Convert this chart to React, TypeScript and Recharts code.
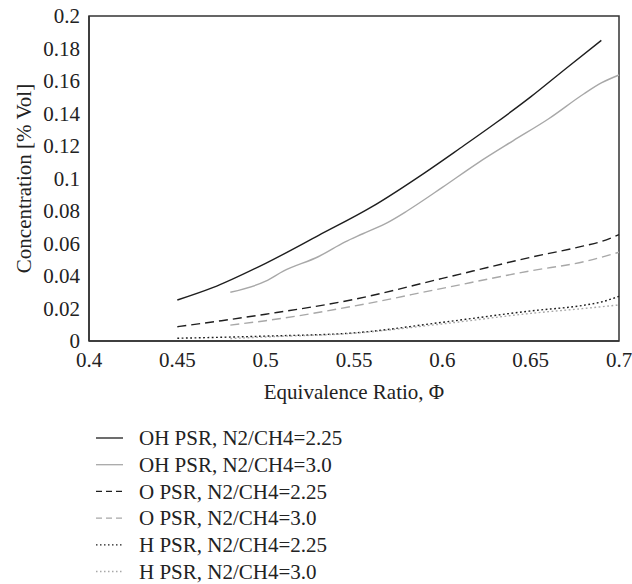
import React from 'react';
import { LineChart, Line, XAxis, YAxis, Legend, ReferenceArea, Label } from 'recharts';

const xTicks = [0.4, 0.45, 0.5, 0.55, 0.6, 0.65, 0.7];
const yTicks = [0, 0.02, 0.04, 0.06, 0.08, 0.1, 0.12, 0.14, 0.16, 0.18, 0.2];

const ohPhi225 = [0.45, 0.47, 0.5, 0.53, 0.56, 0.59, 0.61, 0.63, 0.65, 0.67, 0.69];
const ohVal225 = [0.0252, 0.0328, 0.0478, 0.065, 0.0825, 0.1035, 0.1186, 0.134, 0.1502, 0.1677, 0.185];

const ohPhi30 = [0.48, 0.5, 0.51, 0.53, 0.545, 0.555, 0.57, 0.58, 0.6, 0.62, 0.64, 0.66, 0.68, 0.69, 0.7];
const ohVal30 = [0.03, 0.0368, 0.043, 0.052, 0.061, 0.066, 0.0735, 0.08, 0.0945, 0.1095, 0.1232, 0.1366, 0.152, 0.1588, 0.1637];

const oPhi225 = [0.45, 0.475, 0.5, 0.55, 0.6, 0.65, 0.68, 0.69, 0.7];
const oVal225 = [0.0088, 0.0125, 0.0165, 0.0256, 0.0385, 0.0515, 0.0585, 0.0612, 0.0655];

const oPhi30 = [0.48, 0.5, 0.55, 0.6, 0.65, 0.68, 0.7];
const oVal30 = [0.0098, 0.0125, 0.0215, 0.0324, 0.0432, 0.0488, 0.0546];

const hPhi225 = [0.45, 0.5, 0.55, 0.6, 0.65, 0.68, 0.69, 0.7];
const hVal225 = [0.0017, 0.003, 0.005, 0.0115, 0.0185, 0.022, 0.024, 0.0275];

const hPhi30 = [0.48, 0.5, 0.55, 0.6, 0.65, 0.68, 0.7];
const hVal30 = [0.0015, 0.0025, 0.0048, 0.0105, 0.017, 0.02, 0.0222];

const seriesNames = [
  'OH PSR, N2/CH4=2.25',
  'OH PSR, N2/CH4=3.0',
  'O PSR, N2/CH4=2.25',
  'O PSR, N2/CH4=3.0',
  'H PSR, N2/CH4=2.25',
  'H PSR, N2/CH4=3.0',
];

const toData = (phi: number[], vals: number[]) => phi.map((p, i) => ({ phi: p, v: vals[i] }));

const BLACK = '#1e1e1e';
const GRAY = '#a8a8a8';
const FONT = "'Liberation Serif', 'Times New Roman', serif";
const FS = 21;

const series = [
  { name: seriesNames[0], data: toData(ohPhi225, ohVal225), color: BLACK, dash: undefined as string | undefined },
  { name: seriesNames[1], data: toData(ohPhi30, ohVal30), color: GRAY, dash: undefined },
  { name: seriesNames[2], data: toData(oPhi225, oVal225), color: BLACK, dash: '9 5' },
  { name: seriesNames[3], data: toData(oPhi30, oVal30), color: GRAY, dash: '9 5' },
  { name: seriesNames[4], data: toData(hPhi225, hVal225), color: BLACK, dash: '1.8 2.5' },
  { name: seriesNames[5], data: toData(hPhi30, hVal30), color: GRAY, dash: '1.8 2.5' },
];

const legendDash = (d: string | undefined) => {
  if (!d) return undefined;
  if (d.startsWith('9')) return '6 4';
  return '1.5 2.5';
};

const LegendContent = () => (
  <svg width={320} height={164} style={{ display: 'block', overflow: 'visible' }}>
    {series.map((s, i) => {
      const cy = 18 + i * 26.7;
      return (
        <g key={s.name}>
          <line x1={6} x2={33} y1={cy} y2={cy} stroke={s.color} strokeWidth={1.3} strokeDasharray={legendDash(s.dash)} />
          <text x={49} y={cy} dy="0.35em" fontFamily={FONT} fontSize={FS} fill="#222">
            {s.name}
          </text>
        </g>
      );
    })}
  </svg>
);

export default function App() {
  return (
    <div style={{ position: 'absolute', left: 0, top: 0, background: '#fff' }}>
      <LineChart width={632} height={584} margin={{ top: 16, right: 13, left: 0, bottom: 0 }}>
        <XAxis
          dataKey="phi"
          type="number"
          domain={[0.4, 0.7]}
          ticks={xTicks}
          allowDuplicatedCategory={false}
          height={79}
          tickLine={false}
          tickSize={0}
          tickMargin={11}
          axisLine={{ stroke: '#333', strokeWidth: 1.5 }}
          tick={{ fill: '#222', fontSize: FS, fontFamily: FONT }}
          interval={0}
        >
          <Label
            content={({ viewBox }: any) => (
              <text
                x={viewBox.x + viewBox.width / 2}
                y={392}
                dy="0.35em"
                textAnchor="middle"
                fontFamily={FONT}
                fontSize={FS}
                fill="#222"
              >
                Equivalence Ratio, Φ
              </text>
            )}
          />
        </XAxis>
        <YAxis
          type="number"
          domain={[0, 0.2]}
          ticks={yTicks}
          width={89}
          tickLine={false}
          tickSize={0}
          tickMargin={9}
          axisLine={{ stroke: '#333', strokeWidth: 1.5 }}
          tick={{ fill: '#222', fontSize: FS, fontFamily: FONT }}
          interval={0}
        >
          <Label
            content={({ viewBox }: any) => {
              const cx = 24;
              const cy = viewBox.y + viewBox.height / 2;
              return (
                <text
                  x={cx}
                  y={cy}
                  dy="0.35em"
                  textAnchor="middle"
                  transform={`rotate(-90 ${cx} ${cy})`}
                  fontFamily={FONT}
                  fontSize={FS}
                  fill="#222"
                >
                  Concentration [% Vol]
                </text>
              );
            }}
          />
        </YAxis>
        <ReferenceArea x1={0.4} x2={0.7} y1={0} y2={0.2} fill="none" stroke="#333" strokeWidth={1.5} ifOverflow="visible" />
        {series.map((s) => (
          <Line
            key={s.name}
            data={s.data}
            dataKey="v"
            name={s.name}
            type="monotone"
            stroke={s.color}
            strokeWidth={1.4}
            strokeDasharray={s.dash}
            dot={false}
            activeDot={false}
            isAnimationActive={false}
          />
        ))}
        <Legend
          verticalAlign="bottom"
          align="left"
          content={() => <LegendContent />}
          wrapperStyle={{ left: 90, width: 320, height: 164 }}
        />
      </LineChart>
    </div>
  );
}
